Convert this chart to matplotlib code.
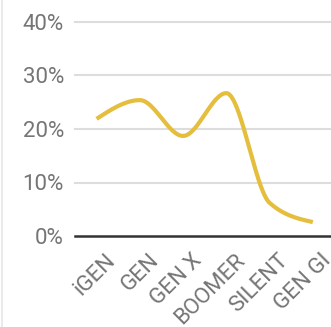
import numpy as np
import matplotlib
matplotlib.use("Agg")
import matplotlib.pyplot as plt

categories = ["iGEN", "GEN", "GEN X", "BOOMER", "SILENT", "GEN GI"]
values = [21.9, 25.4, 18.7, 26.7, 6.2, 2.6]
yticks = [0, 10, 20, 30, 40]
ytick_labels = ["0%", "10%", "20%", "30%", "40%"]


def monotone_curve(xs, ys, n=60):
    xs = np.asarray(xs, float)
    ys = np.asarray(ys, float)
    h = np.diff(xs)
    s = np.diff(ys) / h
    m = np.zeros_like(ys)
    for i in range(1, len(ys) - 1):
        if s[i - 1] * s[i] <= 0:
            m[i] = 0
        else:
            p = (s[i - 1] * h[i] + s[i] * h[i - 1]) / (h[i - 1] + h[i])
            m[i] = (np.sign(s[i - 1]) + np.sign(s[i])) * min(abs(s[i - 1]), abs(s[i]), 0.5 * abs(p))
    m[0] = (3 * s[0] - m[1]) / 2 if len(ys) > 2 else s[0]
    m[-1] = (3 * s[-1] - m[-2]) / 2 if len(ys) > 2 else s[-1]
    X, Y = [], []
    for i in range(len(xs) - 1):
        t = np.linspace(0, 1, n)
        hh = h[i]
        h00 = 2 * t**3 - 3 * t**2 + 1
        h10 = t**3 - 2 * t**2 + t
        h01 = -2 * t**3 + 3 * t**2
        h11 = t**3 - t**2
        X.append(xs[i] + t * hh)
        Y.append(h00 * ys[i] + h10 * hh * m[i] + h01 * ys[i + 1] + h11 * hh * m[i + 1])
    return np.concatenate(X), np.concatenate(Y)


plt.rcParams["font.family"] = ["Roboto", "DejaVu Sans"]
fig = plt.figure(figsize=(3.31, 3.27), dpi=100)
ax = fig.add_axes([75 / 331, 91 / 327, 256 / 331, 214 / 327])

x = np.arange(len(categories))
cx, cy = monotone_curve(x, values)
ax.plot(cx, cy, color="#E5BE3E", lw=3.0, solid_capstyle="butt", zorder=3)

ax.set_xlim(-0.5, 5.42)
ax.set_ylim(0, 40)
ax.set_yticks(yticks)
ax.set_yticklabels(ytick_labels)
ax.set_xticks(x)
ax.set_xticklabels(categories, rotation=45, ha="right", va="top", rotation_mode="anchor")
ax.tick_params(axis="both", length=0, labelsize=16, colors="#757575")
ax.tick_params(axis="y", pad=8)
ax.tick_params(axis="x", pad=10)
for lab in ax.get_xticklabels():
    lab.set_transform(lab.get_transform() + matplotlib.transforms.ScaledTranslation(8 / 100, 0, fig.dpi_scale_trans))

for yv in yticks[1:]:
    ax.axhline(yv, color="#DDDDDD", lw=1.5, zorder=1, clip_on=False)
ax.axhline(0, color="#333333", lw=1.8, zorder=2, clip_on=False)
for sp in ax.spines.values():
    sp.set_visible(False)

fig.add_artist(plt.Line2D([1.5 / 331, 1.5 / 331], [0, 1], color="#E6E6E6", lw=1.2))

fig.savefig("out.png", dpi=100)
